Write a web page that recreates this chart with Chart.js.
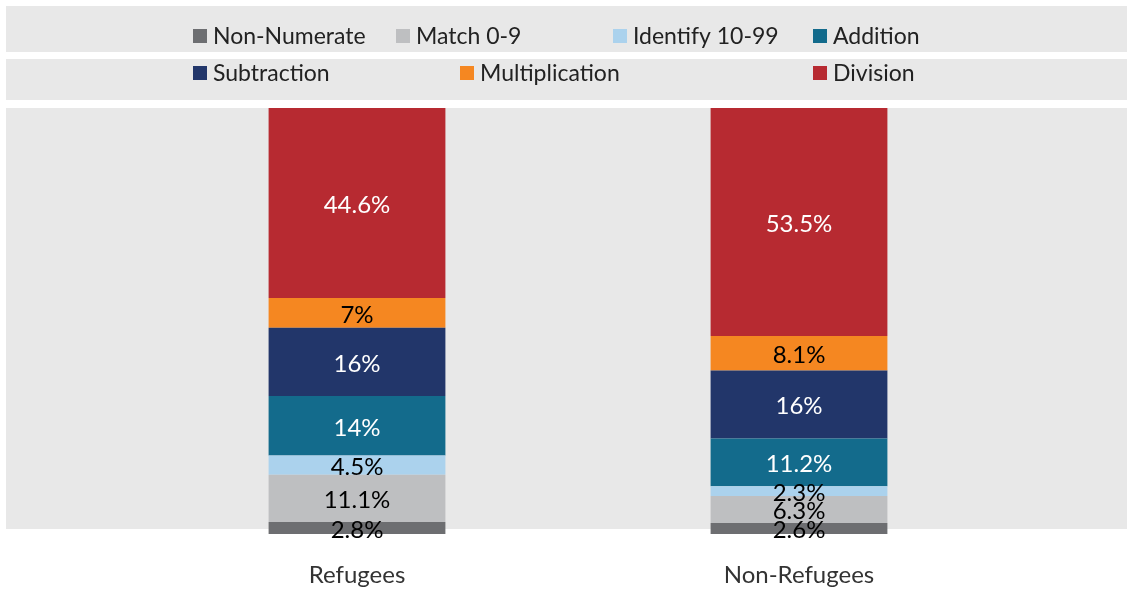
<!DOCTYPE html>
<html>
<head>
<meta charset="utf-8">
<script src="https://cdn.jsdelivr.net/npm/chart.js@4.4.1/dist/chart.umd.min.js"></script>
<style>
  html, body { margin: 0; padding: 0; background: #ffffff; }
  #wrap { width: 1127px; height: 591px; position: relative; }
</style>
</head>
<body>
<div id="wrap"><canvas id="c" width="1127" height="591"></canvas></div>
<script>
// ---- Data ----
const categories = ['Refugees', 'Non-Refugees'];
const seriesNames = ['Non-Numerate', 'Match 0-9', 'Identify 10-99', 'Addition', 'Subtraction', 'Multiplication', 'Division'];
const nonNumerate   = [2.8, 2.6];
const match09       = [11.1, 6.3];
const identify1099  = [4.5, 2.3];
const addition      = [14, 11.2];
const subtraction   = [16, 16];
const multiplication= [7, 8.1];
const division      = [44.6, 53.5];
const seriesValues = [nonNumerate, match09, identify1099, addition, subtraction, multiplication, division];

// ---- Styles ----
const seriesColors = ['#6d6e71', '#bebfc1', '#abd2ed', '#136b8c', '#22366a', '#f58721', '#b72a31'];
const labelColors  = ['#000000', '#000000', '#000000', '#ffffff', '#ffffff', '#000000', '#ffffff'];
const FONT = 'Lato, "Open Sans", sans-serif';

// legend layout (row, box-left x)
const legendLayout = [[0, 193], [0, 396], [0, 613], [0, 813], [1, 193], [1, 460], [1, 813]];
const legendRowY = [36, 73];

const datasets = seriesNames.map((n, i) => ({
  label: n,
  data: seriesValues[i],
  backgroundColor: seriesColors[i],
  borderWidth: 0,
  barPercentage: 0.8,
  categoryPercentage: 0.5
}));

const bgPlugin = {
  id: 'bgPlugin',
  beforeDraw(chart) {
    const ctx = chart.ctx;
    const W = chart.width;
    const ca = chart.chartArea;
    ctx.save();
    ctx.fillStyle = '#e8e8e8';
    ctx.fillRect(6, 6, W - 6, 46);
    ctx.fillRect(6, 59, W - 6, 41);
    ctx.fillRect(6, ca.top, W - 6, ca.bottom - 5 - ca.top);
    // legend
    ctx.font = '23px ' + FONT;
    ctx.textBaseline = 'middle';
    ctx.textAlign = 'left';
    legendLayout.forEach((p, i) => {
      const y = legendRowY[p[0]];
      ctx.fillStyle = seriesColors[i];
      ctx.fillRect(p[1], y - 7, 14, 14);
      ctx.fillStyle = '#222222';
      ctx.fillText(seriesNames[i], p[1] + 20, y + 1);
    });
    ctx.restore();
  },
  afterDatasetsDraw(chart) {
    const ctx = chart.ctx;
    ctx.save();
    ctx.font = '24px ' + FONT;
    ctx.textAlign = 'center';
    ctx.textBaseline = 'middle';
    chart.data.datasets.forEach((ds, i) => {
      const meta = chart.getDatasetMeta(i);
      meta.data.forEach((el, j) => {
        const v = ds.data[j];
        const yc = (el.y + el.base) / 2;
        ctx.fillStyle = labelColors[i];
        ctx.fillText(v + '%', el.x, yc + 2);
      });
    });
    ctx.restore();
  }
};

new Chart(document.getElementById('c'), {
  type: 'bar',
  data: { labels: categories, datasets },
  options: {
    responsive: false,
    animation: false,
    layout: { padding: { top: 108, left: 136, right: 107, bottom: 0 } },
    plugins: { legend: { display: false }, tooltip: { enabled: false } },
    scales: {
      x: {
        stacked: true,
        grid: { display: false, drawTicks: false },
        border: { display: false },
        ticks: { color: '#333333', font: { family: FONT, size: 24 }, padding: 27 },
        afterFit(scale) { scale.height = 57; }
      },
      y: {
        stacked: true,
        display: false,
        min: 0, max: 100
      }
    }
  },
  plugins: [bgPlugin]
});
</script>
</body>
</html>
